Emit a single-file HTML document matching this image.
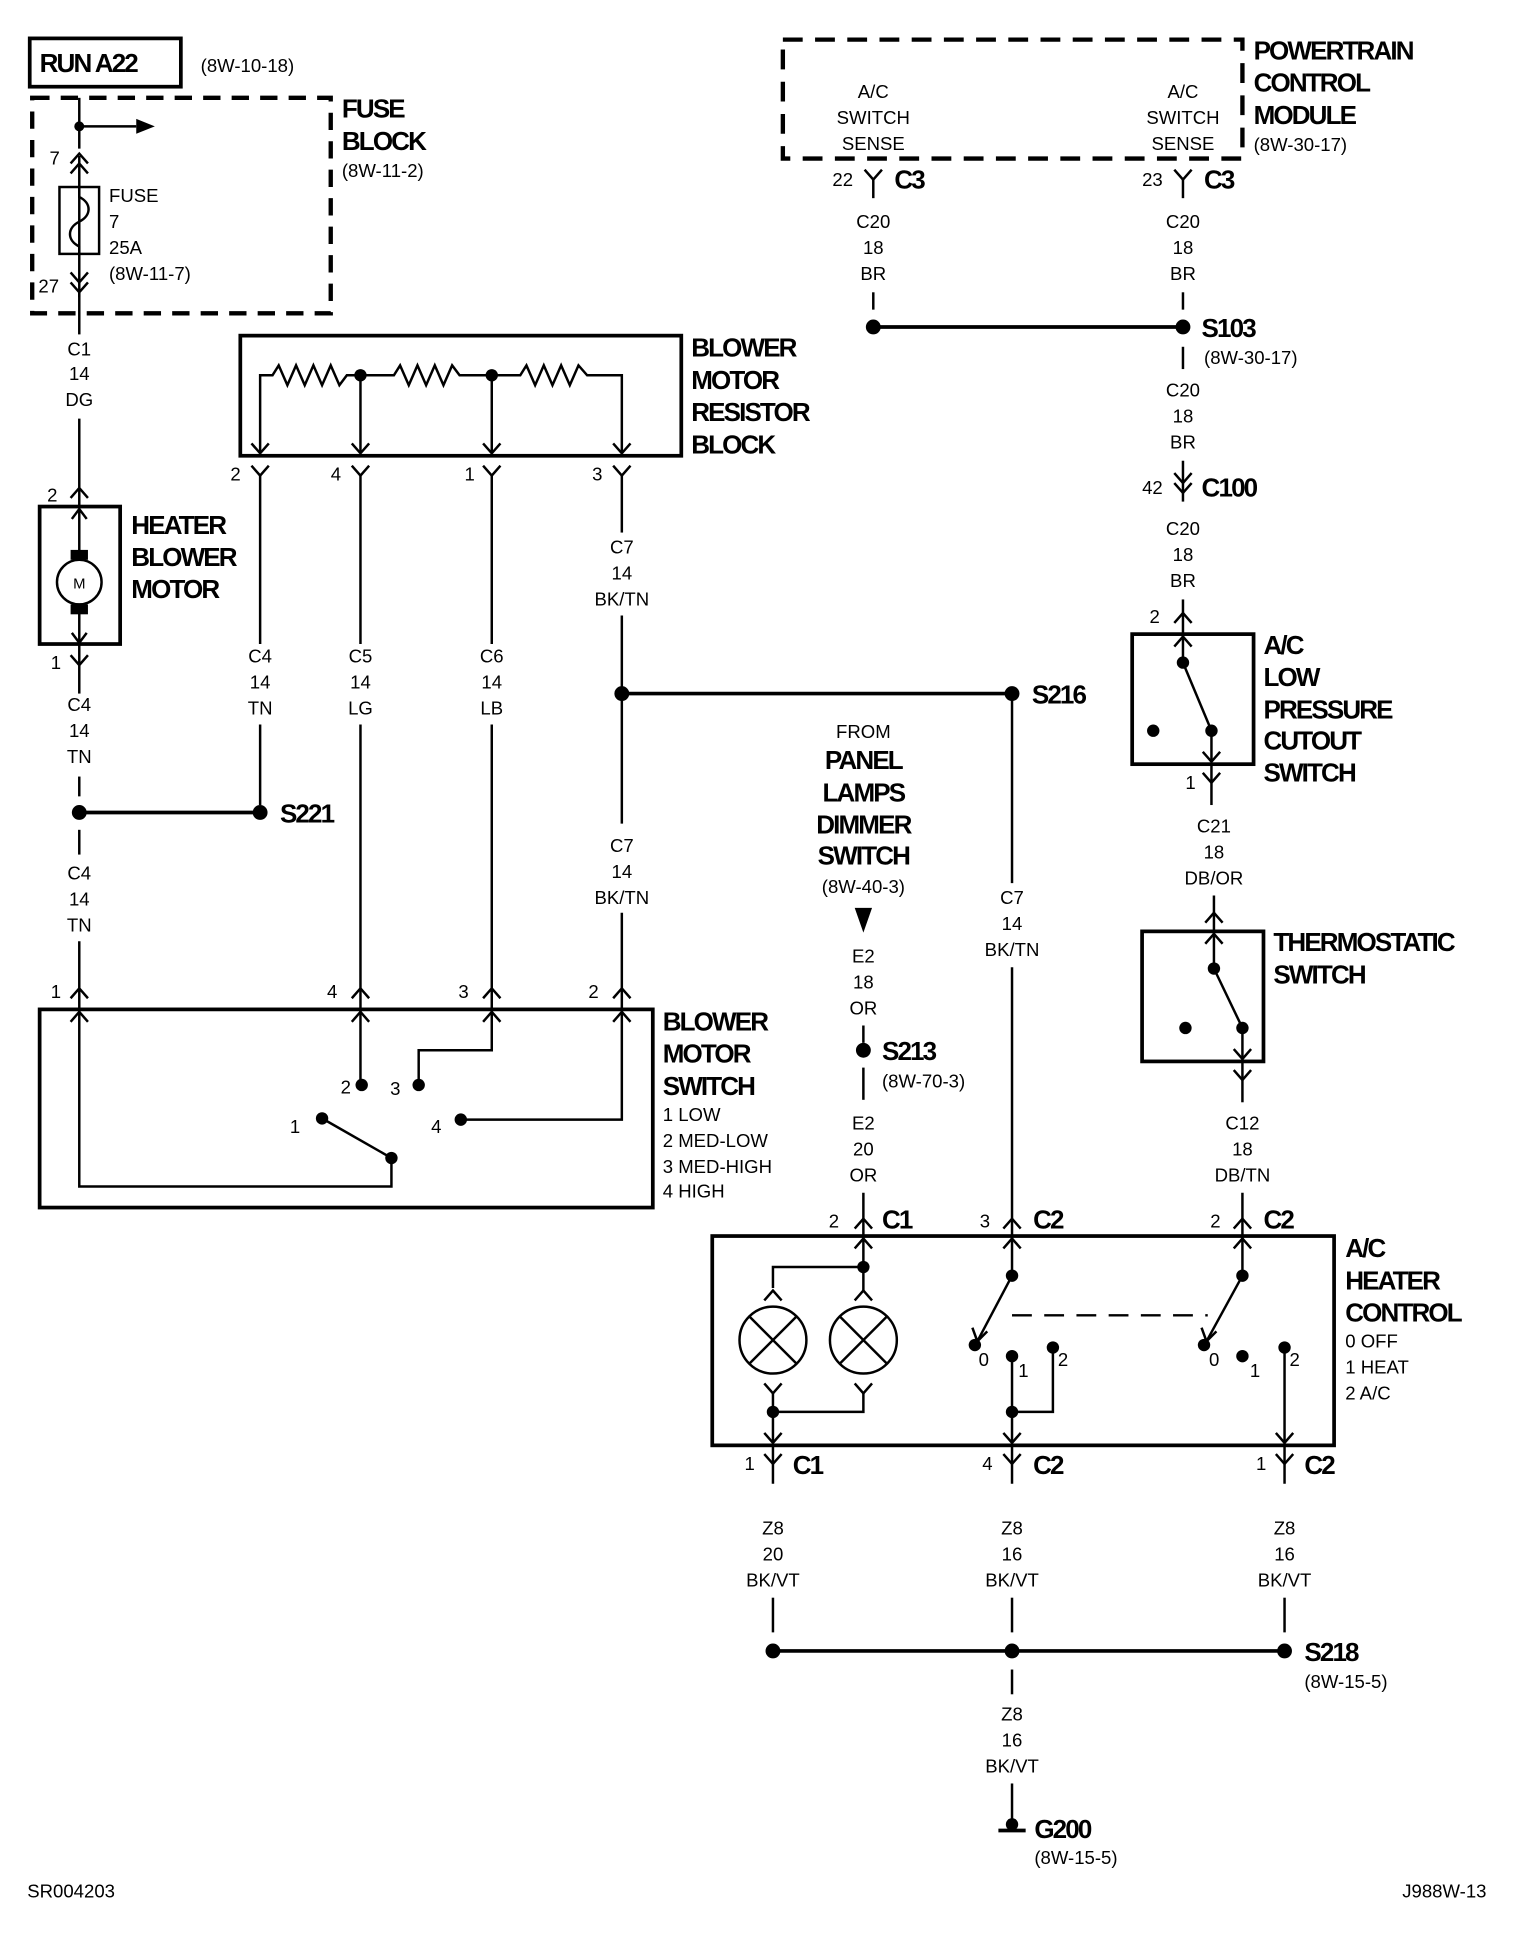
<!DOCTYPE html>
<html><head><meta charset="utf-8"><style>
html,body{margin:0;padding:0;background:#fff;}
svg{display:block;}
text{font-family:"Liberation Sans Narrow","Liberation Sans",sans-serif;fill:#000;}
.b{font-weight:bold;font-size:21px;letter-spacing:-1.5px;}
.s{font-size:15px;}
.p{font-size:15px;}
</style></head><body>
<svg width="1536" height="1942" viewBox="0 0 1240 1568" preserveAspectRatio="none" xmlns="http://www.w3.org/2000/svg">
<g stroke="#000" fill="none" stroke-width="2">
<rect x="24" y="31" width="122" height="39" stroke-width="3"/>
<rect x="26" y="79" width="241" height="174" stroke-width="3.5" stroke-dasharray="14,9"/>
<line x1="64" y1="79" x2="64" y2="120"/>
<line x1="64" y1="102" x2="110" y2="102"/>
<polyline points="64,126 64,240"/>
<polyline points="57,132 64,124 71,132"/><polyline points="57,140 64,132 71,140"/>
<polyline points="57,220 64,228 71,220"/><polyline points="57,228 64,236 71,228"/>
<rect x="48" y="151" width="32" height="54"/>
<path d="M64,151 v8 c10,5 10,15 0,20 c-10,5 -10,15 0,20 v6" />
<line x1="64" y1="236" x2="64" y2="270"/>
<line x1="64" y1="338" x2="64" y2="410"/>
<polyline points="57,402 64,394 71,402"/>
<rect x="32" y="409" width="65" height="111" stroke-width="3"/>
<line x1="64" y1="411" x2="64" y2="452"/><line x1="64" y1="488" x2="64" y2="519"/>
<polyline points="58,419 64,411 70,419"/><polyline points="58,511 64,519 70,511"/>
<circle cx="64" cy="470" r="18"/>
<polyline points="57,529 64,537 71,529"/>
<line x1="64" y1="520" x2="64" y2="560"/>
<line x1="64" y1="627" x2="64" y2="643"/>
<line x1="64" y1="656" x2="210" y2="656" stroke-width="3"/>
<line x1="64" y1="670" x2="64" y2="690"/>
<line x1="64" y1="760" x2="64" y2="815"/>
<polyline points="57,806 64,798 71,806"/>
<rect x="194" y="271" width="356" height="97" stroke-width="3"/>
<polyline points="210,366 210,303 220,303 225,295 232,311 239,295 246,311 253,295 260,311 267,295 274,311 280,303 318,303 323,295 330,311 337,295 344,311 351,295 358,311 365,295 371,303 420,303 425,295 432,311 439,295 446,311 453,295 460,311 467,295 474,303 502,303 502,366"/>
<line x1="291" y1="303" x2="291" y2="366"/><line x1="397" y1="303" x2="397" y2="366"/>
<polyline points="203,358 210,366 217,358"/><polyline points="284,358 291,366 298,358"/><polyline points="390,358 397,366 404,358"/><polyline points="495,358 502,366 509,358"/>
<polyline points="203,376 210,384 217,376"/><polyline points="284,376 291,384 298,376"/><polyline points="390,376 397,384 404,376"/><polyline points="495,376 502,384 509,376"/>
<line x1="210" y1="384" x2="210" y2="520"/><line x1="210" y1="585" x2="210" y2="650"/>
<line x1="291" y1="384" x2="291" y2="520"/><line x1="291" y1="585" x2="291" y2="815"/>
<line x1="397" y1="384" x2="397" y2="520"/><line x1="397" y1="585" x2="397" y2="815"/>
<line x1="502" y1="384" x2="502" y2="430"/><line x1="502" y1="497" x2="502" y2="665"/>
<line x1="502" y1="737" x2="502" y2="815"/>
<line x1="502" y1="560" x2="817" y2="560" stroke-width="3"/>
<polyline points="284,806 291,798 298,806"/><polyline points="390,806 397,798 404,806"/><polyline points="495,806 502,798 509,806"/>
<rect x="32" y="815" width="495" height="160" stroke-width="3"/>
<polyline points="64,815 64,958 316,958 316,935"/>
<polyline points="57,825 64,817 71,825"/><polyline points="284,825 291,817 298,825"/><polyline points="390,825 397,817 404,825"/><polyline points="495,825 502,817 509,825"/>
<line x1="316" y1="935" x2="260" y2="903"/>
<line x1="291" y1="815" x2="291" y2="876"/>
<polyline points="338,876 338,848 397,848 397,815"/>
<polyline points="372,904 502,904 502,815"/>
<rect x="632" y="32" width="371" height="96" stroke-width="3.5" stroke-dasharray="16,10"/>
<polyline points="698,137 705,145 712,137"/><line x1="705" y1="145" x2="705" y2="160"/>
<polyline points="948,137 955,145 962,137"/><line x1="955" y1="145" x2="955" y2="160"/>
<line x1="705" y1="236" x2="705" y2="250"/><line x1="955" y1="236" x2="955" y2="250"/>
<line x1="705" y1="264" x2="955" y2="264" stroke-width="3"/>
<line x1="955" y1="280" x2="955" y2="298"/>
<line x1="955" y1="372" x2="955" y2="405"/>
<polyline points="948,382 955,390 962,382"/><polyline points="948,390 955,398 962,390"/>
<line x1="955" y1="484" x2="955" y2="535"/>
<polyline points="948,503 955,495 962,503"/>
<rect x="914" y="512" width="98" height="105" stroke-width="3"/>
<polyline points="948,522 955,514 962,522"/>
<line x1="955" y1="535" x2="978" y2="590"/>
<line x1="978" y1="590" x2="978" y2="615"/>
<polyline points="971,607 978,615 985,607"/>
<polyline points="971,624 978,632 985,624"/>
<line x1="978" y1="617" x2="978" y2="650"/>
<line x1="980" y1="723" x2="980" y2="782"/>
<polyline points="973,745 980,737 987,745"/>
<rect x="922" y="752" width="98" height="105" stroke-width="3"/>
<polyline points="973,762 980,754 987,762"/>
<line x1="980" y1="782" x2="1003" y2="830"/>
<line x1="1003" y1="830" x2="1003" y2="855"/>
<polyline points="996,847 1003,855 1010,847"/>
<polyline points="996,864 1003,872 1010,864"/>
<line x1="1003" y1="857" x2="1003" y2="890"/>
<line x1="1003" y1="963" x2="1003" y2="1030"/>
<polyline points="996,992 1003,984 1010,992"/>
<line x1="697" y1="828" x2="697" y2="842"/><line x1="697" y1="862" x2="697" y2="888"/>
<line x1="697" y1="963" x2="697" y2="1023"/>
<polyline points="690,992 697,984 704,992"/>
<line x1="817" y1="560" x2="817" y2="713"/><line x1="817" y1="781" x2="817" y2="1030"/>
<polyline points="810,992 817,984 824,992"/>
<rect x="575" y="998" width="502" height="169" stroke-width="3"/>
<polyline points="690,1008 697,1000 704,1008"/><polyline points="810,1008 817,1000 824,1008"/><polyline points="996,1008 1003,1000 1010,1008"/>
<polyline points="624,1040 624,1023 697,1023"/>
<polyline points="617,1050 624,1042 631,1050"/><polyline points="690,1050 697,1042 704,1050"/>
<line x1="697" y1="1042" x2="697" y2="1023"/>
<circle cx="624" cy="1082" r="27"/><circle cx="697" cy="1082" r="27"/>
<line x1="605" y1="1063" x2="643" y2="1101"/><line x1="643" y1="1063" x2="605" y2="1101"/>
<line x1="678" y1="1063" x2="716" y2="1101"/><line x1="716" y1="1063" x2="678" y2="1101"/>
<polyline points="617,1117 624,1125 631,1117"/><polyline points="690,1117 697,1125 704,1117"/>
<polyline points="624,1125 624,1165"/><polyline points="697,1125 697,1140 624,1140"/>
<polyline points="617,1157 624,1165 631,1157"/>
<line x1="817" y1="1030" x2="789" y2="1083"/>
<polyline points="785,1072 789,1083 797,1075"/>
<line x1="817" y1="1062" x2="975" y2="1062" stroke-dasharray="16,10"/>
<line x1="817" y1="1095" x2="817" y2="1165"/>
<polyline points="850,1088 850,1140 817,1140"/>
<polyline points="810,1157 817,1165 824,1157"/>
<line x1="1003" y1="1030" x2="974" y2="1083"/>
<polyline points="970,1072 974,1083 982,1075"/>
<line x1="1037" y1="1088" x2="1037" y2="1165"/>
<polyline points="1030,1157 1037,1165 1044,1157"/>
<polyline points="617,1174 624,1182 631,1174"/><polyline points="810,1174 817,1182 824,1174"/><polyline points="1030,1174 1037,1182 1044,1174"/>
<line x1="624" y1="1167" x2="624" y2="1198"/><line x1="817" y1="1167" x2="817" y2="1198"/><line x1="1037" y1="1167" x2="1037" y2="1198"/>
<line x1="624" y1="1290" x2="624" y2="1318"/><line x1="817" y1="1290" x2="817" y2="1318"/><line x1="1037" y1="1290" x2="1037" y2="1318"/>
<line x1="624" y1="1333" x2="1037" y2="1333" stroke-width="3"/>
<line x1="817" y1="1348" x2="817" y2="1368"/>
<line x1="817" y1="1440" x2="817" y2="1470"/>
<line x1="806" y1="1478" x2="828" y2="1478" stroke-width="3"/>
</g>
<g fill="#000">
<circle cx="64" cy="102" r="4"/>
<polygon points="110,96 125,102 110,108"/>
<rect x="57" y="444" width="14" height="8"/><rect x="57" y="488" width="14" height="8"/>
<circle cx="64" cy="656" r="6"/><circle cx="210" cy="656" r="6"/>
<circle cx="291" cy="303" r="5"/><circle cx="397" cy="303" r="5"/>
<circle cx="502" cy="560" r="6"/><circle cx="817" cy="560" r="6"/>
<circle cx="292" cy="876" r="5"/><circle cx="338" cy="876" r="5"/><circle cx="260" cy="903" r="5"/><circle cx="372" cy="904" r="5"/><circle cx="316" cy="935" r="5"/>
<circle cx="705" cy="264" r="6"/><circle cx="955" cy="264" r="6"/>
<circle cx="955" cy="535" r="5"/><circle cx="978" cy="590" r="5"/><circle cx="931" cy="590" r="5"/>
<circle cx="980" cy="782" r="5"/><circle cx="1003" cy="830" r="5"/><circle cx="957" cy="830" r="5"/>
<polygon points="690,733 704,733 697,753"/>
<circle cx="697" cy="848" r="6"/>
<circle cx="697" cy="1023" r="5"/><circle cx="624" cy="1140" r="5"/>
<circle cx="817" cy="1030" r="5"/><circle cx="787" cy="1086" r="5"/><circle cx="817" cy="1095" r="5"/><circle cx="850" cy="1088" r="5"/><circle cx="817" cy="1140" r="5"/>
<circle cx="1003" cy="1030" r="5"/><circle cx="972" cy="1086" r="5"/><circle cx="1003" cy="1095" r="5"/><circle cx="1037" cy="1088" r="5"/>
<circle cx="624" cy="1333" r="6"/><circle cx="817" cy="1333" r="6"/><circle cx="1037" cy="1333" r="6"/>
<circle cx="817" cy="1473" r="5"/>
</g>
<g>
<text x="32" y="58" class="b">RUN A22</text>
<text x="162" y="58" class="s">(8W-10-18)</text>
<text x="276" y="95" class="b">FUSE</text><text x="276" y="121" class="b">BLOCK</text><text x="276" y="143" class="s">(8W-11-2)</text>
<text x="88" y="163" class="s">FUSE</text><text x="88" y="184" class="s">7</text><text x="88" y="205" class="s">25A</text><text x="88" y="226" class="s">(8W-11-7)</text>
<text x="40" y="133" class="p">7</text><text x="31" y="236" class="p">27</text>
<g text-anchor="middle">
<text x="64" y="287" class="s">C1</text><text x="64" y="307" class="s">14</text><text x="64" y="328" class="s">DG</text>
<text x="64" y="574" class="s">C4</text><text x="64" y="595" class="s">14</text><text x="64" y="616" class="s">TN</text>
<text x="64" y="710" class="s">C4</text><text x="64" y="731" class="s">14</text><text x="64" y="752" class="s">TN</text>
<text x="210" y="535" class="s">C4</text><text x="210" y="556" class="s">14</text><text x="210" y="577" class="s">TN</text>
<text x="291" y="535" class="s">C5</text><text x="291" y="556" class="s">14</text><text x="291" y="577" class="s">LG</text>
<text x="397" y="535" class="s">C6</text><text x="397" y="556" class="s">14</text><text x="397" y="577" class="s">LB</text>
<text x="502" y="447" class="s">C7</text><text x="502" y="468" class="s">14</text><text x="502" y="489" class="s">BK/TN</text>
<text x="502" y="688" class="s">C7</text><text x="502" y="709" class="s">14</text><text x="502" y="730" class="s">BK/TN</text>
<text x="705" y="79" class="s">A/C</text><text x="705" y="100" class="s">SWITCH</text><text x="705" y="121" class="s">SENSE</text>
<text x="955" y="79" class="s">A/C</text><text x="955" y="100" class="s">SWITCH</text><text x="955" y="121" class="s">SENSE</text>
<text x="705" y="184" class="s">C20</text><text x="705" y="205" class="s">18</text><text x="705" y="226" class="s">BR</text>
<text x="955" y="184" class="s">C20</text><text x="955" y="205" class="s">18</text><text x="955" y="226" class="s">BR</text>
<text x="955" y="320" class="s">C20</text><text x="955" y="341" class="s">18</text><text x="955" y="362" class="s">BR</text>
<text x="955" y="432" class="s">C20</text><text x="955" y="453" class="s">18</text><text x="955" y="474" class="s">BR</text>
<text x="980" y="672" class="s">C21</text><text x="980" y="693" class="s">18</text><text x="980" y="714" class="s">DB/OR</text>
<text x="1003" y="912" class="s">C12</text><text x="1003" y="933" class="s">18</text><text x="1003" y="954" class="s">DB/TN</text>
<text x="697" y="596" class="s">FROM</text>
<text x="697" y="621" class="b">PANEL</text><text x="697" y="647" class="b">LAMPS</text><text x="697" y="673" class="b">DIMMER</text><text x="697" y="698" class="b">SWITCH</text>
<text x="697" y="721" class="s">(8W-40-3)</text>
<text x="697" y="777" class="s">E2</text><text x="697" y="798" class="s">18</text><text x="697" y="819" class="s">OR</text>
<text x="697" y="912" class="s">E2</text><text x="697" y="933" class="s">20</text><text x="697" y="954" class="s">OR</text>
<text x="817" y="730" class="s">C7</text><text x="817" y="751" class="s">14</text><text x="817" y="772" class="s">BK/TN</text>
<text x="624" y="1239" class="s">Z8</text><text x="624" y="1260" class="s">20</text><text x="624" y="1281" class="s">BK/VT</text>
<text x="817" y="1239" class="s">Z8</text><text x="817" y="1260" class="s">16</text><text x="817" y="1281" class="s">BK/VT</text>
<text x="1037" y="1239" class="s">Z8</text><text x="1037" y="1260" class="s">16</text><text x="1037" y="1281" class="s">BK/VT</text>
<text x="817" y="1389" class="s">Z8</text><text x="817" y="1410" class="s">16</text><text x="817" y="1431" class="s">BK/VT</text>
</g>
<text x="59" y="475" style="font-size:12px">M</text>
<text x="38" y="405" class="p">2</text><text x="41" y="540" class="p">1</text>
<text x="226" y="664" class="b">S221</text>
<text x="558" y="288" class="b">BLOWER</text><text x="558" y="314" class="b">MOTOR</text><text x="558" y="340" class="b">RESISTOR</text><text x="558" y="366" class="b">BLOCK</text>
<text x="106" y="431" class="b">HEATER</text><text x="106" y="457" class="b">BLOWER</text><text x="106" y="483" class="b">MOTOR</text>
<text x="186" y="388" class="p">2</text><text x="267" y="388" class="p">4</text><text x="375" y="388" class="p">1</text><text x="478" y="388" class="p">3</text>
<text x="41" y="806" class="p">1</text><text x="264" y="806" class="p">4</text><text x="370" y="806" class="p">3</text><text x="475" y="806" class="p">2</text>
<text x="275" y="883" class="p">2</text><text x="315" y="884" class="p">3</text><text x="234" y="915" class="p">1</text><text x="348" y="915" class="p">4</text>
<text x="535" y="832" class="b">BLOWER</text><text x="535" y="858" class="b">MOTOR</text><text x="535" y="884" class="b">SWITCH</text>
<text x="535" y="905" class="s">1 LOW</text><text x="535" y="926" class="s">2 MED-LOW</text><text x="535" y="947" class="s">3 MED-HIGH</text><text x="535" y="967" class="s">4 HIGH</text>
<text x="833" y="568" class="b">S216</text>
<text x="1012" y="48" class="b">POWERTRAIN</text><text x="1012" y="74" class="b">CONTROL</text><text x="1012" y="100" class="b">MODULE</text><text x="1012" y="122" class="s">(8W-30-17)</text>
<text x="672" y="150" class="p">22</text><text x="722" y="152" class="b">C3</text>
<text x="922" y="150" class="p">23</text><text x="972" y="152" class="b">C3</text>
<text x="970" y="272" class="b">S103</text><text x="972" y="294" class="s">(8W-30-17)</text>
<text x="922" y="399" class="p">42</text><text x="970" y="401" class="b">C100</text>
<text x="928" y="503" class="p">2</text>
<text x="1020" y="528" class="b">A/C</text><text x="1020" y="554" class="b">LOW</text><text x="1020" y="580" class="b">PRESSURE</text><text x="1020" y="605" class="b">CUTOUT</text><text x="1020" y="631" class="b">SWITCH</text>
<text x="957" y="637" class="p">1</text>
<text x="1028" y="768" class="b">THERMOSTATIC</text><text x="1028" y="794" class="b">SWITCH</text>
<text x="712" y="856" class="b">S213</text><text x="712" y="878" class="s">(8W-70-3)</text>
<text x="669" y="991" class="p">2</text><text x="712" y="992" class="b">C1</text>
<text x="791" y="991" class="p">3</text><text x="834" y="992" class="b">C2</text>
<text x="977" y="991" class="p">2</text><text x="1020" y="992" class="b">C2</text>
<text x="1086" y="1015" class="b">A/C</text><text x="1086" y="1041" class="b">HEATER</text><text x="1086" y="1067" class="b">CONTROL</text>
<text x="1086" y="1088" class="s">0 OFF</text><text x="1086" y="1109" class="s">1 HEAT</text><text x="1086" y="1130" class="s">2 A/C</text>
<text x="790" y="1103" class="p">0</text><text x="822" y="1112" class="p">1</text><text x="854" y="1103" class="p">2</text>
<text x="976" y="1103" class="p">0</text><text x="1009" y="1112" class="p">1</text><text x="1041" y="1103" class="p">2</text>
<text x="601" y="1187" class="p">1</text><text x="640" y="1190" class="b">C1</text>
<text x="793" y="1187" class="p">4</text><text x="834" y="1190" class="b">C2</text>
<text x="1014" y="1187" class="p">1</text><text x="1053" y="1190" class="b">C2</text>
<text x="1053" y="1341" class="b">S218</text><text x="1053" y="1363" class="s">(8W-15-5)</text>
<text x="835" y="1484" class="b">G200</text><text x="835" y="1505" class="s">(8W-15-5)</text>
<text x="22" y="1532" class="s">SR004203</text><text x="1132" y="1532" class="s">J988W-13</text>
</g>
</svg>
</body></html>
